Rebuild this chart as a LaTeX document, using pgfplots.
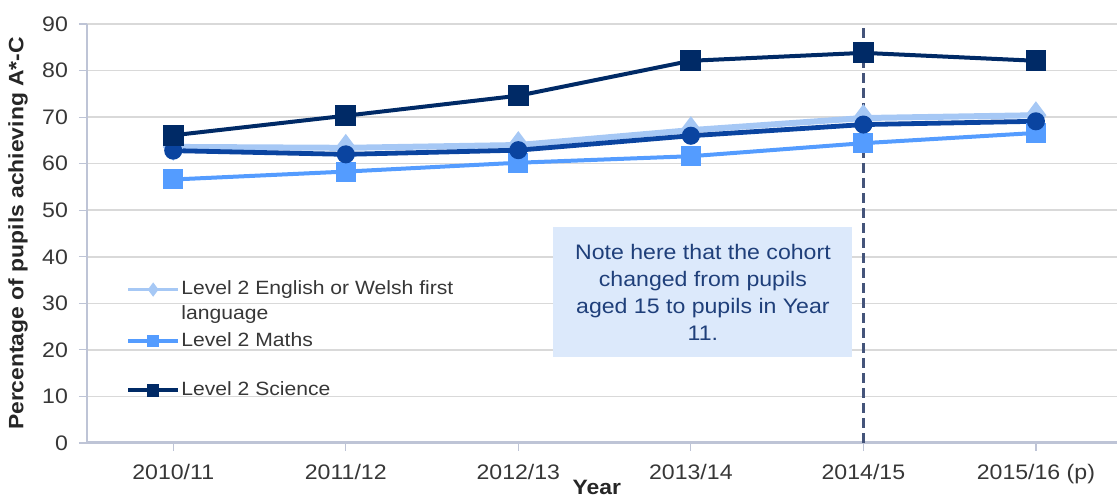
\documentclass[border=0pt]{standalone}
\usepackage{fontspec}
\setmainfont{Liberation Sans}[FakeStretch=1.1]
\usepackage{pgfplots}
\pgfplotsset{compat=1.18}
\usetikzlibrary{calc}

\definecolor{engcol}{RGB}{166,200,245}
\definecolor{mathcol}{RGB}{84,156,255}
\definecolor{midcol}{RGB}{10,68,160}
\definecolor{scicol}{RGB}{0,42,102}
\definecolor{gridgray}{RGB}{217,217,217}
\definecolor{axisgray}{RGB}{190,196,214}
\definecolor{tickgray}{RGB}{55,55,55}
\definecolor{notefill}{RGB}{220,233,251}
\definecolor{notetext}{RGB}{31,63,122}
\definecolor{dashcol}{RGB}{68,84,122}

\begin{document}
\begin{tikzpicture}
  \begin{axis}[
    name=ax,
    scale only axis,
    width=515pt, height=209.5pt,
    xmin=-0.5, xmax=5.47,
    ymin=0, ymax=90,
    xtick={0,1,2,3,4,5},
    xticklabels={2010/11,2011/12,2012/13,2013/14,2014/15,2015/16 (p)},
    ytick={0,10,...,90},
    ymajorgrids,
    grid style={gridgray, line width=0.75pt},
    axis x line*=bottom,
    axis y line*=left,
    x axis line style={axisgray, line width=1.5pt},
    y axis line style={axisgray, line width=0.6pt},
    xtick style={axisgray, line width=0.6pt},
    ytick style={axisgray, line width=0.6pt},
    x tick label style={yshift=-3pt},
    y tick label style={xshift=-2pt},
    tick align=outside,
    major tick length=4pt,
    tick label style={font=\fontsize{10.5}{12}\selectfont, text=tickgray},
    /pgf/number format/assume math mode=true,
    xlabel={Year},
    ylabel={Percentage of pupils achieving A*-C},
    label style={font=\bfseries\fontsize{10.4}{12}\selectfont, text=black!85},
    xlabel style={at={(axis description cs:0.495,0)}, anchor=center, yshift=-22pt},
    ylabel style={at={(axis description cs:0,0.5)}, anchor=center, yshift=34.5pt},
    legend style={at={(axis cs:-0.31,36.0)}, anchor=north west, draw=none, fill=none,
      font=\fontsize{9.6}{12.5}\selectfont, text=tickgray, row sep=3.5pt,
      nodes={inner sep=0.6pt, align=left},
      /tikz/every even column/.append style={column sep=0pt}},
    legend cell align=left,
    legend image code/.code={\draw[mark repeat=2,mark phase=2,#1,mark size=2.1pt]
      plot coordinates {(0pt,0pt)(12.5pt,0pt)(25pt,0pt)};},
  ]
    % cohort change marker
    \addplot[dashcol, line width=1.4pt, dash pattern=on 5pt off 2.5pt, forget plot]
      coordinates {(4,0) (4,90)};

    \addplot[engcol, line width=3pt, mark=diamond*, mark size=4.5pt,
      legend image post style={yshift=6.2pt, line width=1.8pt}] coordinates {
      (0,63.6) (1,63.4) (2,64.0) (3,67.2) (4,69.8) (5,70.4)
    };
    \addlegendentry{Level 2 English or Welsh first\\language}

    \addplot[mathcol, line width=2pt, mark=square*, mark size=4pt] coordinates {
      (0,56.6) (1,58.3) (2,60.2) (3,61.6) (4,64.4) (5,66.6)
    };
    \addlegendentry{Level 2 Maths}

    \addlegendimage{empty legend}
    \addlegendentry{\rule{0pt}{5.5pt}}

    \addplot[midcol, line width=2.4pt, mark=*, mark size=3.3pt, forget plot] coordinates {
      (0,62.8) (1,62.0) (2,62.9) (3,66.0) (4,68.4) (5,69.1)
    };

    \addplot[scicol, line width=2pt, mark=square*, mark size=4.2pt] coordinates {
      (0,66.1) (1,70.3) (2,74.6) (3,82.1) (4,83.8) (5,82.1)
    };
    \addlegendentry{Level 2 Science}

    \node[fill=notefill, text=notetext, align=center, inner sep=0pt,
      minimum width=149.5pt, minimum height=65pt,
      font=\fontsize{10.5}{13.5}\selectfont]
      at (axis cs:3.07,32.4)
      {Note here that the cohort\\changed from pupils\\aged 15 to pupils in Year\\11.};
  \end{axis}
  \pgfresetboundingbox
  \path ($(ax.south west)+(-43.5pt,-27pt)$) rectangle ($(ax.north east)+(0pt,12pt)$);
\end{tikzpicture}
\end{document}
